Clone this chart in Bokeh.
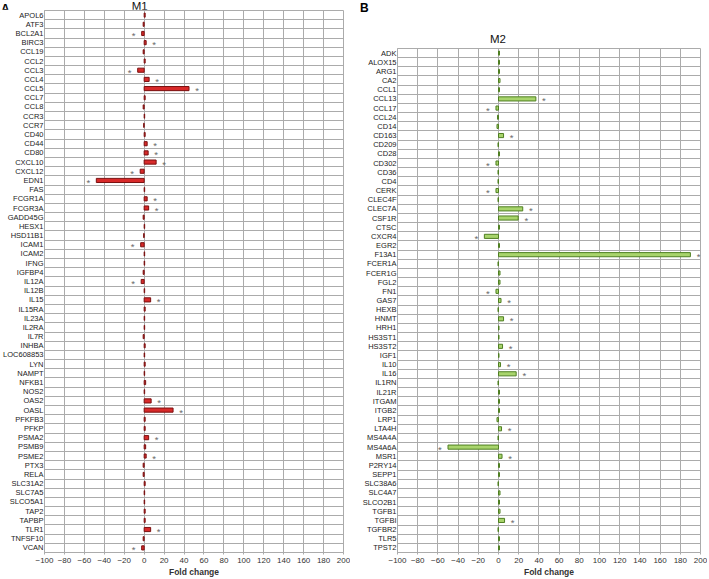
from bokeh.plotting import figure
from bokeh.layouts import row, column
from bokeh.models import FixedTicker, Range1d, ColumnDataSource, Div
from bokeh.core.properties import value
from bokeh.embed import file_html
from bokeh.resources import INLINE

# ---------------- data ----------------
m1_genes = ["APOL6", "ATF3", "BCL2A1", "BIRC3", "CCL19", "CCL2", "CCL3", "CCL4", "CCL5", "CCL7",
            "CCL8", "CCR3", "CCR7", "CD40", "CD44", "CD80", "CXCL10", "CXCL12", "EDN1", "FAS",
            "FCGR1A", "FCGR3A", "GADD45G", "HESX1", "HSD11B1", "ICAM1", "ICAM2", "IFNG", "IGFBP4", "IL12A",
            "IL12B", "IL15", "IL15RA", "IL23A", "IL2RA", "IL7R", "INHBA", "LOC608853", "LYN", "NAMPT",
            "NFKB1", "NOS2", "OAS2", "OASL", "PFKFB3", "PFKP", "PSMA2", "PSMB9", "PSME2", "PTX3",
            "RELA", "SLC31A2", "SLC7A5", "SLCO5A1", "TAP2", "TAPBP", "TLR1", "TNFSF10", "VCAN"]
m1_fc = [1, -1, -2.5, 2, -1, 1, -6.5, 5, 45, 1,
         -1, 0.5, -0.5, 1, 3, 4, 12, -4, -48, 0.5,
         3, 4.5, -1, 0.5, -0.5, -3.5, 0.5, 0.5, -1, -3,
         0.5, 6.5, 1, 0.5, 0.5, -1, 1, 0.5, 1, 0.5,
         1.5, 0.5, 7, 29, 1, 1, 4.5, 1.5, 2, -1,
         -1, 1, 0.5, 0.5, 1, 1, 6.5, -1, -2.5]
m1_sig = ["BCL2A1", "BIRC3", "CCL3", "CCL4", "CCL5", "CD44", "CD80", "CXCL10", "CXCL12", "EDN1",
          "FCGR1A", "FCGR3A", "ICAM1", "IL12A", "IL15", "OAS2", "OASL", "PSMA2", "PSME2", "TLR1", "VCAN"]

m2_genes = ["ADK", "ALOX15", "ARG1", "CA2", "CCL1", "CCL13", "CCL17", "CCL24", "CD14", "CD163",
            "CD209", "CD28", "CD302", "CD36", "CD4", "CERK", "CLEC4F", "CLEC7A", "CSF1R", "CTSC",
            "CXCR4", "EGR2", "F13A1", "FCER1A", "FCER1G", "FGL2", "FN1", "GAS7", "HEXB", "HNMT",
            "HRH1", "HS3ST1", "HS3ST2", "IGF1", "IL10", "IL16", "IL1RN", "IL21R", "ITGAM", "ITGB2",
            "LRP1", "LTA4H", "MS4A4A", "MS4A6A", "MSR1", "P2RY14", "SEPP1", "SLC38A6", "SLC4A7", "SLCO2B1",
            "TGFB1", "TGFBI", "TGFBR2", "TLR5", "TPST2"]
m2_fc = [1, 1, 1, 1.5, 1, 37, -2.5, -1, -1.5, 5,
         -0.5, 1, -2.5, -0.5, -0.5, -2.5, -0.5, 24, 19.5, 1,
         -14, 1, 190, -0.5, 1.5, 1.5, -2.5, 2.5, -0.5, 5,
         0.5, 0.5, 4, 0.5, 2, 17.5, -0.5, 1, 1, 1,
         -1.5, 3, -0.5, -50, 3.5, 1, 1, -0.5, 1.5, 1,
         1.5, 6, -0.5, 1, 1]
m2_sig = ["CCL13", "CCL17", "CD163", "CD302", "CERK", "CLEC7A", "CSF1R", "CXCR4", "F13A1", "FN1",
          "GAS7", "HNMT", "HS3ST2", "IL10", "IL16", "LTA4H", "MS4A6A", "MSR1", "TGFBI"]

x_ticks = [-100, -80, -60, -40, -20, 0, 20, 40, 60, 80, 100, 120, 140, 160, 180, 200]
x_label = "Fold change"

FONT = "Liberation Sans"
GRID = "#ababab"


def make_panel(genes, fc, sig, fill, edge, width, height, b_left, b_right):
    n = len(genes)
    ys = [n - i for i in range(n)]
    p = figure(width=width, height=height, output_backend="svg", toolbar_location=None,
               x_range=Range1d(x_ticks[0], x_ticks[-1]), y_range=Range1d(0.5, n + 0.5),
               min_border_left=b_left, min_border_right=b_right,
               min_border_top=1, min_border_bottom=24)
    p.outline_line_color = GRID
    p.background_fill_color = "white"
    p.border_fill_color = "white"

    p.xgrid.ticker = FixedTicker(ticks=x_ticks)
    p.ygrid.ticker = FixedTicker(ticks=[k + 0.5 for k in range(n + 1)])
    p.xgrid.grid_line_color = GRID
    p.ygrid.grid_line_color = GRID

    p.xaxis.ticker = FixedTicker(ticks=x_ticks)
    p.xaxis.major_label_overrides = {t: (("\u2212" + str(-t)) if t < 0 else str(t)) for t in x_ticks}
    p.xaxis.axis_label = x_label
    p.xaxis.axis_label_text_font = FONT
    p.xaxis.axis_label_text_font_size = "8.5px"
    p.xaxis.axis_label_text_font_style = "bold"
    p.xaxis.axis_label_text_color = "#333333"
    p.xaxis.axis_label_standoff = 1
    p.xaxis.major_label_text_font = FONT
    p.xaxis.major_label_text_font_size = "8px"
    p.xaxis.major_label_text_color = "#333333"
    p.xaxis.major_label_standoff = 3
    p.xaxis.axis_line_color = GRID
    p.xaxis.major_tick_line_color = GRID
    p.xaxis.major_tick_out = 2
    p.xaxis.major_tick_in = 0
    p.xaxis.minor_tick_line_color = None
    p.xaxis.minor_tick_out = 0
    p.xaxis.minor_tick_in = 0

    p.yaxis.ticker = FixedTicker(ticks=ys)
    p.yaxis.major_label_overrides = {y: g for y, g in zip(ys, genes)}
    p.yaxis.major_label_text_font = FONT
    p.yaxis.major_label_text_font_size = "7.5px"
    p.yaxis.major_label_text_color = "#222222"
    p.yaxis.major_label_standoff = 1
    p.yaxis.axis_line_color = GRID
    p.yaxis.major_tick_line_color = None
    p.yaxis.minor_tick_line_color = None
    p.yaxis.major_tick_out = 0
    p.yaxis.major_tick_in = 0
    p.yaxis.minor_tick_out = 0
    p.yaxis.minor_tick_in = 0

    src = ColumnDataSource(dict(y=ys, fc=fc))
    p.hbar(y="y", left=0, right="fc", height=0.45, source=src,
           fill_color=fill, line_color=edge, line_width=1)

    sx, sy = [], []
    for g, v, y in zip(genes, fc, ys):
        if g in sig:
            sx.append(v + (8 if v > 0 else -8))
            sy.append(y)
    p.text(x=sx, y=sy, text=["*"] * len(sx), text_align="center", text_baseline="middle",
           text_font=value(FONT), text_font_size="9.5px", text_color="#6a6a6a", y_offset=2)
    return p


def header(width, height, letter, letter_left, letter_top, letter_size,
           title, title_center, title_top):
    html = (
        f'<div style="position:relative;width:{width}px;height:{height}px;'
        f'font-family:\'Liberation Sans\',Arial,sans-serif;line-height:1;">'
        f'<span style="position:absolute;left:{letter_left}px;top:{letter_top}px;font-size:{letter_size}px;'
        f'font-weight:bold;color:#000;">{letter}</span>'
        f'<span style="position:absolute;left:{title_center - 30}px;width:60px;text-align:center;'
        f'top:{title_top}px;font-size:11.5px;color:#111;">{title}</span></div>'
    )
    return Div(text=html, width=width, height=height, margin=(0, 0, 0, 0))


W1, W2, H = 350, 357, 579
B1L, B1R = 41, 7
B2L, B2R = 47, 7
h1, h2 = 9, 47

p1 = make_panel(m1_genes, m1_fc, m1_sig, "#d82a2a", "#7a1010",
                width=W1, height=H - h1, b_left=B1L, b_right=B1R)
p2 = make_panel(m2_genes, m2_fc, m2_sig, "#a8d46c", "#4f7f22",
                width=W2, height=H - h2, b_left=B2L, b_right=B2R)


def zero_x(b_left, w, b_right):
    # screen x of the data value 0 inside a panel
    return b_left + (w - b_left - b_right) * (0 - x_ticks[0]) / (x_ticks[-1] - x_ticks[0])


d1 = header(W1, h1, "A", 1, 0, 12, "M1", zero_x(B1L, W1, B1R) - 2, -2)
d2 = header(W2, h2, "B", 10, 2, 12, "M2", zero_x(B2L, W2, B2R), 34)

layout = row(column(d1, p1, spacing=0), column(d2, p2, spacing=0), spacing=0)
open("out.html", "w").write(file_html(layout, INLINE))
